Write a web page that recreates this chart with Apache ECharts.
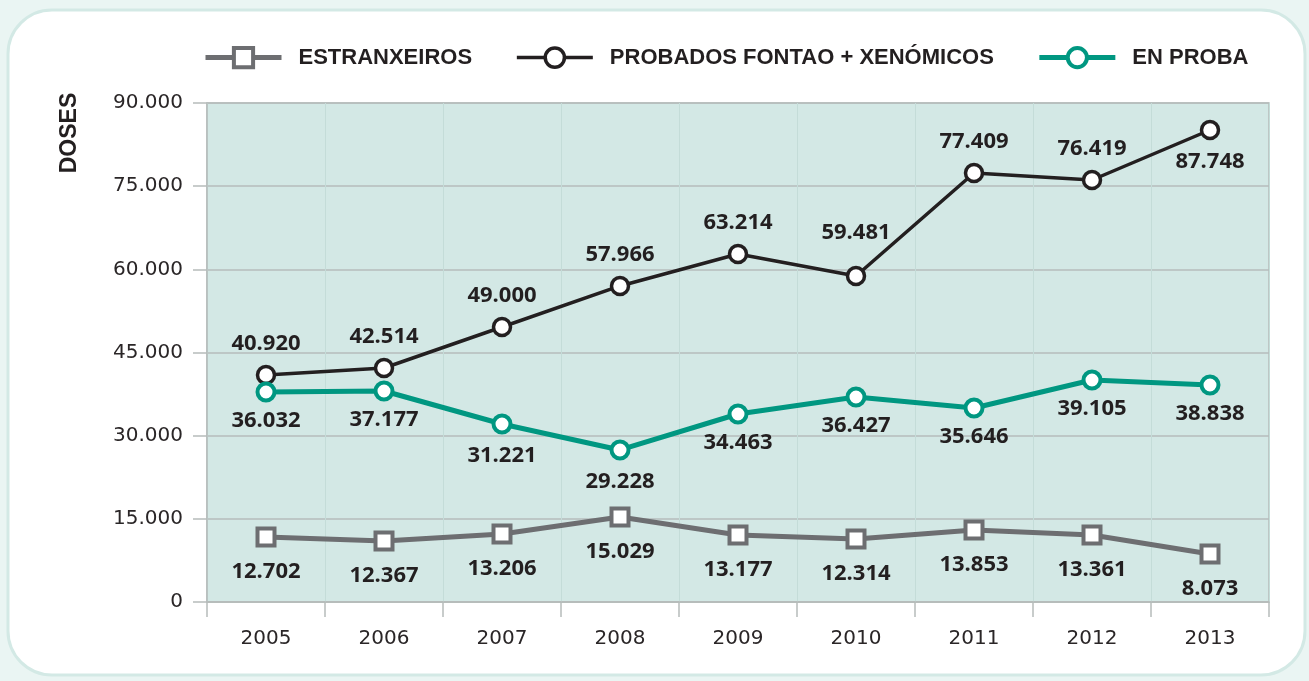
<!DOCTYPE html>
<html>
<head>
<meta charset="utf-8">
<script src="https://cdn.jsdelivr.net/npm/echarts@6/dist/echarts.min.js"></script>
<style>
html,body{margin:0;padding:0;background:#eaf5f3;}
#c{width:1309px;height:681px;}
</style>
</head>
<body>
<div id="c"></div>
<script>
const categories = ['2005','2006','2007','2008','2009','2010','2011','2012','2013'];
const seriesNames = ['ESTRANXEIROS','PROBADOS FONTAO + XENÓMICOS','EN PROBA'];
// values as plotted in the picture
const estranxeiros = [11720, 11000, 12260, 15330, 12080, 11360, 12990, 12080, 8660];
const probados = [40940, 42200, 49600, 57000, 62770, 58800, 77370, 76110, 85130];
const enProba = [37880, 38060, 32100, 27420, 33910, 36970, 34990, 40040, 39140];
// value labels as printed in the picture
const estranxeirosLabels = ['12.702','12.367','13.206','15.029','13.177','12.314','13.853','13.361','8.073'];
const probadosLabels = ['40.920','42.514','49.000','57.966','63.214','59.481','77.409','76.419','87.748'];
const enProbaLabels = ['36.032','37.177','31.221','29.228','34.463','36.427','35.646','39.105','38.838'];
const yTicks = {min: 0, max: 90000, interval: 15000};

const colors = ['#6d6e71', '#231f20', '#009781'];
const lineWidths = [5, 3.5, 5];
const borderWidths = [4, 3.5, 4];

const chart = echarts.init(document.getElementById('c'));
const labelFont = {fontFamily: 'Open Sans, Liberation Sans, sans-serif', fontWeight: 'bold', fontSize: 22, color: '#231f20'};

function build(values, labels, pos, dist, overrides) {
  return values.map((v, i) => {
    const o = overrides[i] || {};
    return {
      value: v,
      label: {position: o.position || pos, distance: o.distance != null ? o.distance : dist, formatter: labels[i]}
    };
  });
}

const fmt = v => v === 0 ? '0' : String(v).replace(/\B(?=(\d{3})+(?!\d))/g, '.');
const axisText = {fontFamily: 'DejaVu Sans, sans-serif', fontWeight: 'normal', fontSize: 20, color: '#2a2627'};

chart.setOption({
  backgroundColor: 'transparent',
  animation: false,
  graphic: [
    {type: 'rect', z: -10, shape: {x: 8, y: 10, width: 1297, height: 665, r: 44},
     style: {fill: '#ffffff', stroke: '#d3e9e5', lineWidth: 3}},
    {type: 'text', x: 70, y: 133, rotation: Math.PI / 2,
     style: {text: 'DOSES', fontFamily: 'Liberation Sans, Arial, sans-serif', fontWeight: 'bold', fontSize: 23,
             fill: '#231f20', align: 'center', verticalAlign: 'middle'}}
  ],
  legend: {
    left: 198, top: 41, itemWidth: 76, itemHeight: 24, itemGap: 43,
    textStyle: {fontFamily: 'Liberation Sans, Arial, sans-serif', fontWeight: 'bold', fontSize: 22, color: '#231f20', padding: [0, 0, 0, 12]},
    data: seriesNames.map((n, i) => ({
      name: n,
      lineStyle: {width: lineWidths[i], color: colors[i]},
      itemStyle: {color: '#ffffff', borderColor: colors[i], borderWidth: borderWidths[i]}
    }))
  },
  grid: {left: 207, right: 40, top: 103, bottom: 79, show: true, backgroundColor: '#d3e8e5', borderColor: '#b6bcbb', borderWidth: 1.5},
  xAxis: {
    type: 'category', data: categories, boundaryGap: true,
    axisLine: {lineStyle: {color: '#b6bcbb', width: 1.5}},
    axisTick: {show: true, length: 15, lineStyle: {color: '#b6bcbb', width: 1.5}},
    splitLine: {show: true, lineStyle: {color: '#c4dcd8', width: 1}},
    axisLabel: Object.assign({margin: 27}, axisText)
  },
  yAxis: {
    type: 'value', min: yTicks.min, max: yTicks.max, interval: yTicks.interval,
    axisLine: {show: true, lineStyle: {color: '#b6bcbb', width: 1.5}},
    axisTick: {show: true, length: 14, lineStyle: {color: '#b6bcbb', width: 1.5}},
    splitLine: {lineStyle: {color: '#b6bcbb', width: 1.5}},
    axisLabel: Object.assign({margin: 24, formatter: fmt}, axisText)
  },
  series: [
    {
      name: seriesNames[0], type: 'line', data: build(estranxeiros, estranxeirosLabels, 'bottom', 13, {}),
      symbol: 'rect', symbolSize: 17,
      lineStyle: {color: colors[0], width: lineWidths[0]},
      itemStyle: {color: '#ffffff', borderColor: colors[0], borderWidth: borderWidths[0]},
      label: Object.assign({show: true}, labelFont)
    },
    {
      name: seriesNames[1], type: 'line', data: build(probados, probadosLabels, 'top', 10, {5: {distance: 22}, 8: {position: 'bottom', distance: 10}}),
      symbol: 'circle', symbolSize: 17,
      lineStyle: {color: colors[1], width: lineWidths[1]},
      itemStyle: {color: '#ffffff', borderColor: colors[1], borderWidth: borderWidths[1]},
      label: Object.assign({show: true}, labelFont)
    },
    {
      name: seriesNames[2], type: 'line', data: build(enProba, enProbaLabels, 'bottom', 7, {2: {distance: 10}, 3: {distance: 10}}),
      symbol: 'circle', symbolSize: 17,
      lineStyle: {color: colors[2], width: lineWidths[2]},
      itemStyle: {color: '#ffffff', borderColor: colors[2], borderWidth: borderWidths[2]},
      label: Object.assign({show: true}, labelFont)
    }
  ]
});
</script>
</body>
</html>
